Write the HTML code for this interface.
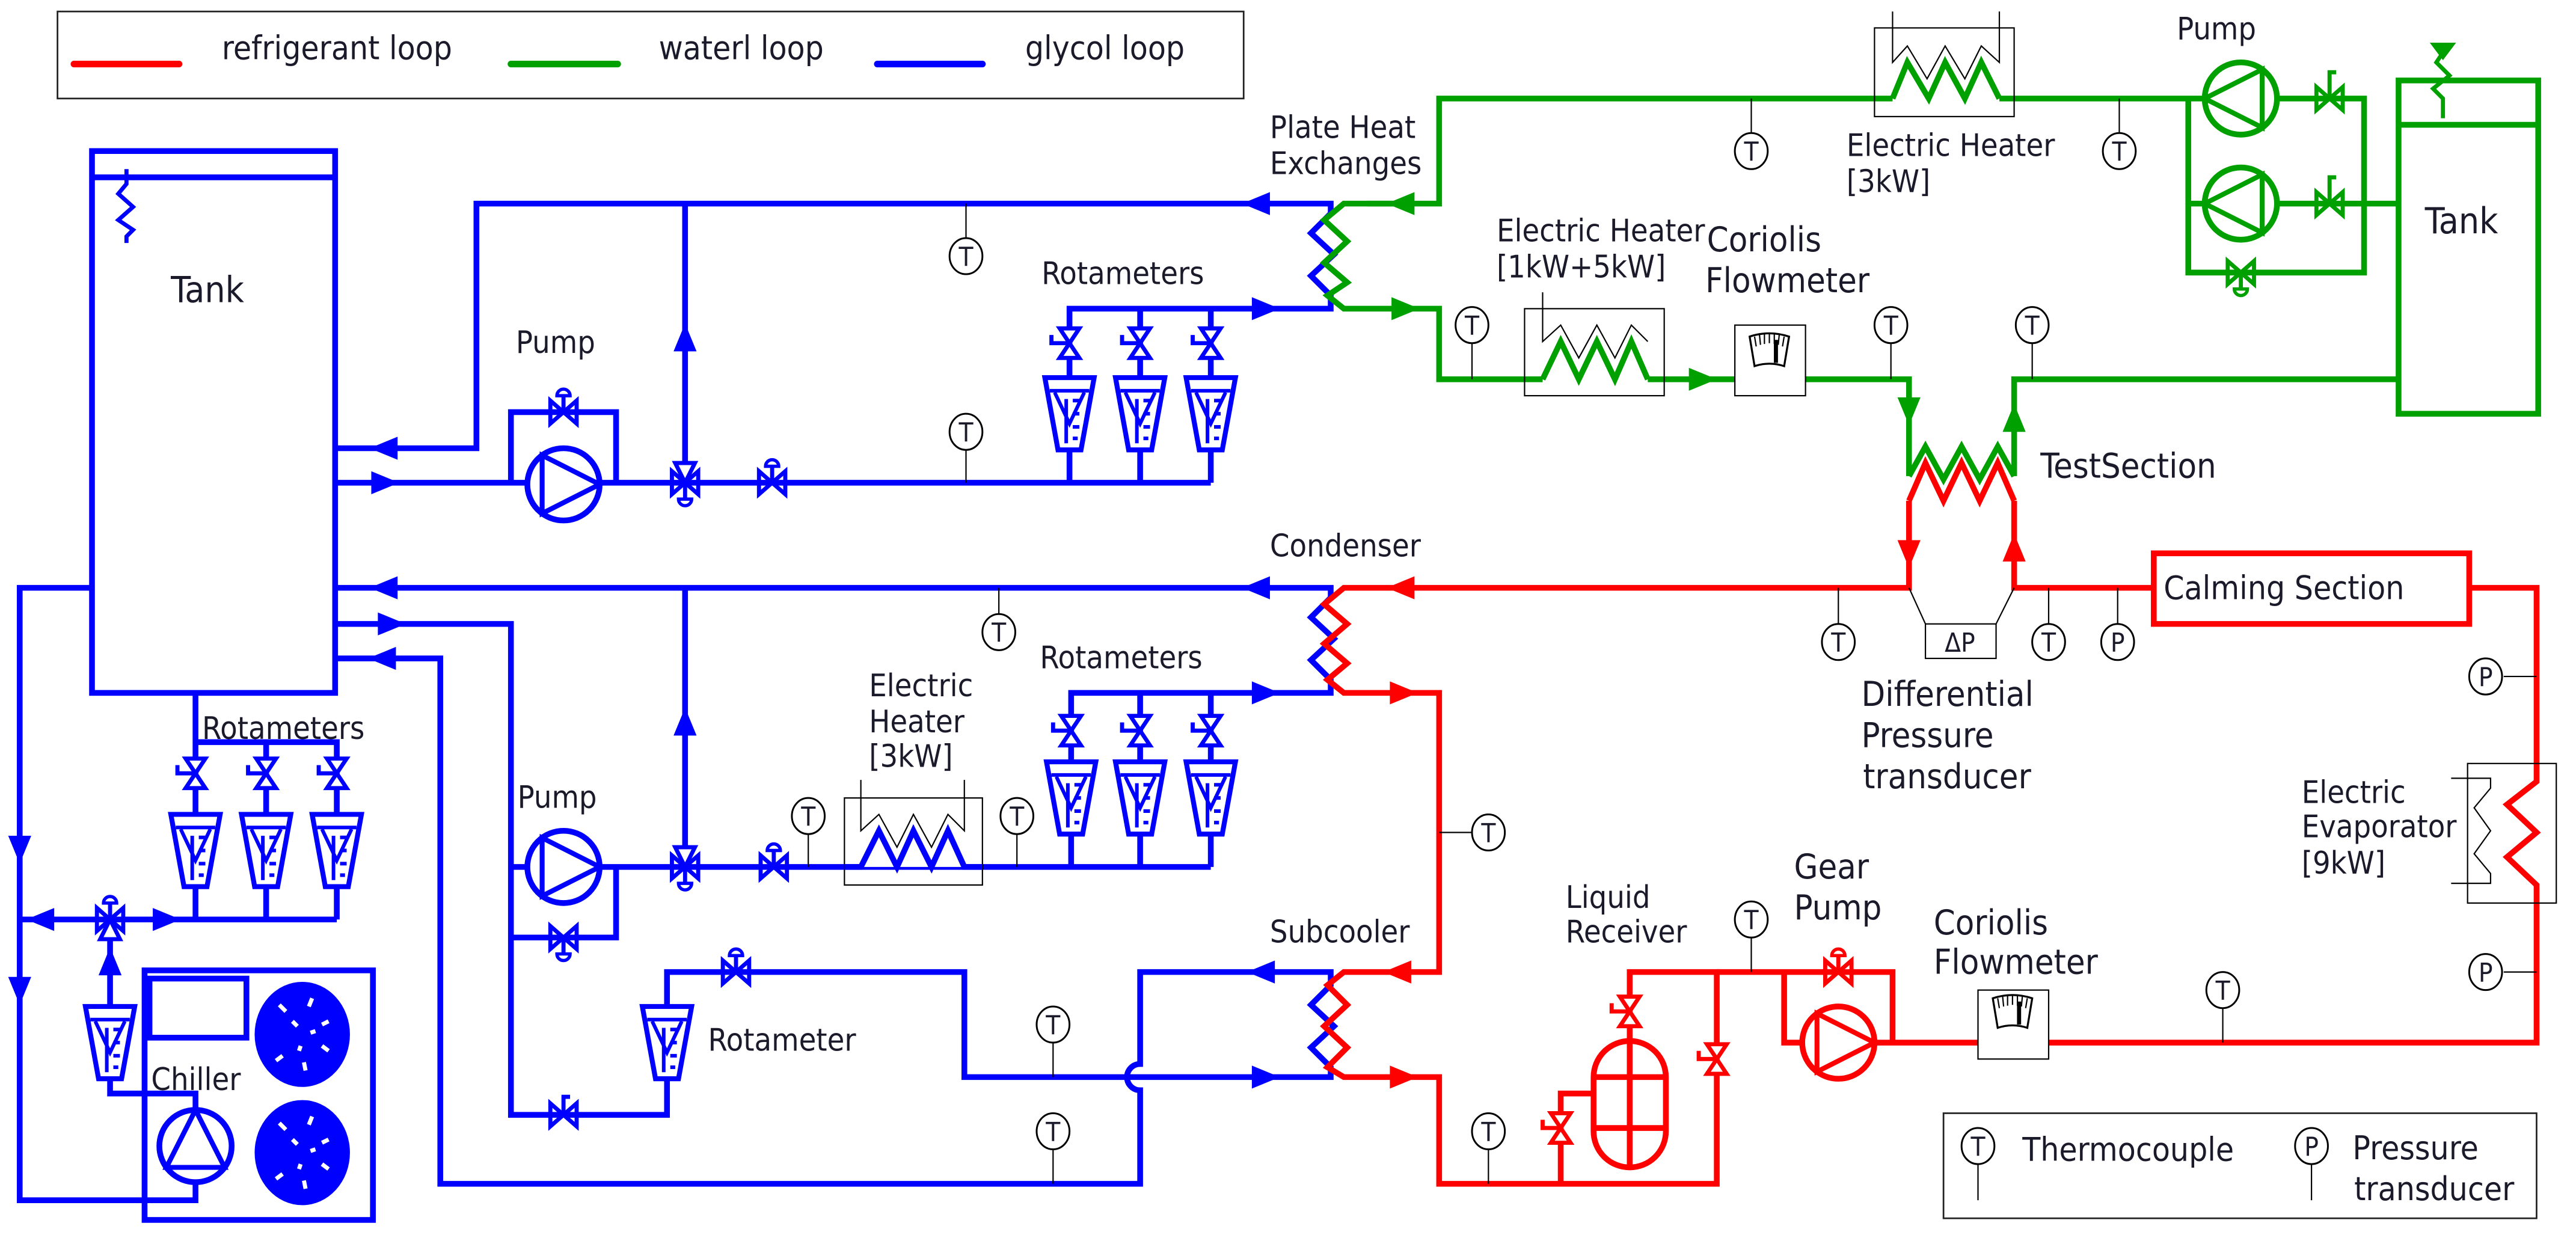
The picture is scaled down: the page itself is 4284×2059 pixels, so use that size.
<!DOCTYPE html>
<html><head><meta charset="utf-8"><style>
html,body{margin:0;padding:0;background:#fff}
svg{display:block}
text{font-family:"DejaVu Sans Condensed","DejaVu Sans","Liberation Sans",sans-serif;font-stretch:condensed;fill:#1a1a2a}
</style></head><body>
<svg width="4284" height="2059" viewBox="0 0 1568 754" preserveAspectRatio="none" xmlns="http://www.w3.org/2000/svg">
<defs>
<polygon id="ar" points="-8,-7 9,0 -8,7"/>
<g id="vb"><path d="M-8,-7 L8,7 L8,-7 L-8,7 Z" stroke-width="2.5" fill="none" stroke-linejoin="miter"/></g>
<g id="hu"><path d="M0,0 V-10" stroke-width="2.5"/><path d="M-4,-10 A4,4 0 0 1 4,-10 Z" stroke-width="2"/></g>
<g id="rv"><path d="M-6,-9 L6,9 L-6,9 L6,-9 Z" stroke-width="2.5"/><path d="M0,0 H-11 V-5" fill="none" stroke-width="2.5"/></g>
<g id="rot"><polygon points="-15,0 15,0 7,44 -7,44" fill="#fff" stroke-width="3"/><path d="M-12,8 H12 M-9,9 L0,28 L9,9 M-2,13 V40 M2,14 h5 M2,22 h4 M2,30 h4 M2,37 h3" fill="none" stroke-width="2.2"/></g>
<g id="pump"><circle r="22" fill="#fff" stroke-width="3.5"/><path d="M-13,-17.7 V17.7 L22,0 Z" fill="none" stroke-width="3"/></g>
<g id="ts"><ellipse rx="10" ry="11" fill="#fff" stroke="#000" stroke-width="1.1"/><text x="0" y="6" font-size="16" text-anchor="middle">T</text></g>
<g id="ps"><ellipse rx="10" ry="11" fill="#fff" stroke="#000" stroke-width="1.1"/><text x="0" y="6" font-size="16" text-anchor="middle">P</text></g>
<g id="dial"><path d="M-12,-10 Q0,-14 12,-10 L9,8 Q0,5 -9,8 Z" fill="none" stroke="#000" stroke-width="1.2"/><path d="M-9,-10 l1,6 M-6,-11 l0.6,6 M-3,-11.5 v6 M0,-12 v6 M3,-11.5 v6 M6,-11 l-0.6,6 M9,-10 l-1,6" stroke="#000" stroke-width="0.8"/><path d="M4,-8 V6" stroke="#000" stroke-width="2.5"/></g>
</defs>

<!-- Legend -->
<rect x="35" y="7" width="722" height="53" fill="none" stroke="#222" stroke-width="1"/>
<line x1="45" y1="39" x2="109" y2="39" stroke="#f00" stroke-width="4" stroke-linecap="round"/>
<line x1="311" y1="39" x2="376" y2="39" stroke="#00a000" stroke-width="4" stroke-linecap="round"/>
<line x1="534" y1="39" x2="598" y2="39" stroke="#00f" stroke-width="4" stroke-linecap="round"/>
<text x="135" y="36" font-size="20">refrigerant loop</text>
<text x="401" y="36" font-size="20">waterl loop</text>
<text x="624" y="36" font-size="20">glycol loop</text>

<!-- ===== BLUE ===== -->
<g stroke="#00f" fill="none" stroke-width="3.5">
<rect x="56" y="92" width="148" height="330"/>
<line x1="56" y1="108" x2="204" y2="108"/>
<path d="M77,103 V112 L72,118 L81,126 L72,134 L81,140 L77,144 V148" stroke-width="2.5"/>
<path d="M204,273 H290 V124 H810 V130 L798,142 L812,155 L798,168 L810,180 V188 H651 V294"/>
<path d="M694,188 V294 M737,188 V294"/>
<path d="M204,294 H737"/>
<path d="M417,124 V294"/>
<path d="M311,294 V251 H375 V294"/>
<path d="M204,358 H810 V364 L798,376 L812,389 L798,402 L810,414 V422 H652 V528"/>
<path d="M694,422 V528 M737,422 V528"/>
<path d="M204,380 H311 V679 H406 V592 H587 V656 H810 V650 L798,638 L812,625 L798,612 L810,600 V592 H694 V648 A8,8 0 0 0 694,664 V721 H268 V401 H204"/>
<path d="M311,528 H737"/>
<path d="M311,571 H375 V528"/>
<path d="M417,528 V358"/>
<path d="M119,422 V560 M119,452 H205 V560 M162,452 V560"/>
<path d="M12,560 H205"/>
<path d="M56,358 H12 V731 H119 V720"/>
<path d="M119,676 V666 H67 V560"/>
<rect x="88" y="591" width="139" height="152"/>
<rect x="91" y="596" width="59" height="36"/>
</g>
<g fill="#00f">
<ellipse cx="184" cy="630" rx="29" ry="32"/><ellipse cx="184" cy="702" rx="29" ry="32"/>
</g>
<g stroke="#fff" stroke-width="2.5" fill="none">
<path d="M170,612 l4,4 M190,608 l-2,5 M200,622 l-4,2 M200,640 l-4,-3 M186,652 l-1,-5 M168,646 l4,-3 M178,622 l3,3 M192,628 l-3,1 M182,640 l1,-3"/>
<path d="M170,684 l4,4 M190,680 l-2,5 M200,694 l-4,2 M200,712 l-4,-3 M186,724 l-1,-5 M168,718 l4,-3 M178,694 l3,3 M192,700 l-3,1 M182,712 l1,-3"/>
</g>
<g fill="#00f">
<use href="#ar" transform="translate(765,124) rotate(180)"/>
<use href="#ar" transform="translate(234,273) rotate(180)"/>
<use href="#ar" transform="translate(234,294)"/>
<use href="#ar" transform="translate(417,206) rotate(-90)"/>
<use href="#ar" transform="translate(770,188)"/>
<use href="#ar" transform="translate(234,358) rotate(180)"/>
<use href="#ar" transform="translate(765,358) rotate(180)"/>
<use href="#ar" transform="translate(770,422)"/>
<use href="#ar" transform="translate(238,380)"/>
<use href="#ar" transform="translate(233,401) rotate(180)"/>
<use href="#ar" transform="translate(417,440) rotate(-90)"/>
<use href="#ar" transform="translate(768,592) rotate(180)"/>
<use href="#ar" transform="translate(770,656)"/>
<use href="#ar" transform="translate(12,517) rotate(90)"/>
<use href="#ar" transform="translate(12,603) rotate(90)"/>
<use href="#ar" transform="translate(67,586) rotate(-90)"/>
<use href="#ar" transform="translate(25,560) rotate(180)"/>
<use href="#ar" transform="translate(101,560)"/>
</g>
<g stroke="#00f" fill="#fff">
<use href="#vb" x="343" y="251"/><use href="#hu" x="343" y="251"/>
<use href="#vb" x="417" y="294"/><use href="#hu" transform="translate(417,294) rotate(180)"/>
<path d="M411,282 L417,294 L423,282 Z" stroke-width="2.5"/>
<use href="#vb" x="470" y="294"/><use href="#hu" x="470" y="294"/>
<use href="#vb" x="417" y="528"/><use href="#hu" transform="translate(417,528) rotate(180)"/>
<path d="M411,516 L417,528 L423,516 Z" stroke-width="2.5"/>
<use href="#vb" x="471" y="528"/><use href="#hu" x="471" y="528"/>
<use href="#vb" x="343" y="571"/><use href="#hu" transform="translate(343,571) rotate(180)"/>
<use href="#vb" x="448" y="592"/><use href="#hu" x="448" y="592"/>
<use href="#vb" x="343" y="679"/><path d="M343,679 V668 H347" fill="none" stroke-width="2.5"/>
<use href="#vb" x="67" y="560"/><use href="#hu" x="67" y="560"/>
<path d="M61,572 L67,560 L73,572 Z" stroke-width="2.5"/>
<use href="#rv" x="651" y="209"/><use href="#rv" x="694" y="209"/><use href="#rv" x="737" y="209"/>
<use href="#rot" x="651" y="230"/><use href="#rot" x="694" y="230"/><use href="#rot" x="737" y="230"/>
<use href="#rv" x="652" y="445"/><use href="#rv" x="694" y="445"/><use href="#rv" x="737" y="445"/>
<use href="#rot" x="652" y="464"/><use href="#rot" x="694" y="464"/><use href="#rot" x="737" y="464"/>
<use href="#rv" x="119" y="471"/><use href="#rv" x="162" y="471"/><use href="#rv" x="205" y="471"/>
<use href="#rot" x="119" y="496"/><use href="#rot" x="162" y="496"/><use href="#rot" x="205" y="496"/>
<use href="#rot" x="67" y="613"/><use href="#rot" x="406" y="613"/>
<use href="#pump" x="343" y="295"/>
<use href="#pump" x="343" y="528"/>
<use href="#pump" transform="translate(119,698) rotate(-90)"/>
</g>
<!-- blue heater -->
<rect x="514" y="486" width="84" height="53" fill="none" stroke="#000" stroke-width="0.8"/>
<path d="M524,475 V506 L535,496 L546,516 L556,496 L567,516 L577,496 L587,506 V475" fill="none" stroke="#000" stroke-width="0.8"/>
<path d="M514,528 H524 L535,506 L546,528 L556,506 L567,528 L577,506 L587,528 H598" fill="#fff" stroke="#00f" stroke-width="3.5"/>

<!-- ===== GREEN ===== -->
<g stroke="#00a000" fill="none" stroke-width="3.5">
<path d="M853,124 H818 L806,134 L820,147 L806,160 L820,172 L808,180 L818,188 H876 V231 H939"/>
<path d="M832,124 H876 V60 H1152"/>
<path d="M1217,60 H1332 V166 H1439 V60 H1332"/>
<path d="M1332,124 H1460"/>
<rect x="1460" y="49" width="85" height="203"/>
<line x1="1460" y1="76" x2="1545" y2="76"/>
<path d="M1487,72 V60 L1481,54 L1491,46 L1483,38 L1487,32 V28" stroke-width="2.5"/>
<path d="M1481,27 L1493,27 L1487,35 Z" fill="#00a000" stroke-width="2"/>
<path d="M1003,231 H1162 V290 M1226,290 V231 H1460"/>
</g>
<rect x="1141" y="17" width="85" height="54" fill="none" stroke="#000" stroke-width="0.8"/>
<path d="M1152,7 V38 L1161,28 L1173,48 L1184,28 L1196,48 L1206,28 L1217,38 V7" fill="none" stroke="#000" stroke-width="0.8"/>
<path d="M1152,60 L1161,38 L1174,60 L1184,38 L1196,60 L1206,38 L1217,60" fill="none" stroke="#00a000" stroke-width="3.5"/>
<rect x="928" y="188" width="85" height="53" fill="none" stroke="#000" stroke-width="0.8"/>
<path d="M939,178 V208 L950,198 L961,218 L972,198 L983,218 L993,198 L1003,208" fill="none" stroke="#000" stroke-width="0.8"/>
<path d="M939,231 L950,208 L961,231 L972,208 L983,231 L993,208 L1003,231" fill="none" stroke="#00a000" stroke-width="3.5"/>
<rect x="1056" y="198" width="43" height="43" fill="#fff" stroke="#000" stroke-width="0.8"/>
<use href="#dial" x="1077" y="215"/>
<g fill="#00a000">
<use href="#ar" transform="translate(853,124) rotate(180)"/>
<use href="#ar" transform="translate(855,188)"/>
<use href="#ar" transform="translate(1036,231)"/>
<use href="#ar" transform="translate(1162,250) rotate(90)"/>
<use href="#ar" transform="translate(1226,255) rotate(-90)"/>
</g>
<g stroke="#00a000" fill="#fff">
<use href="#pump" transform="translate(1364,60) rotate(180)"/>
<use href="#pump" transform="translate(1364,124) rotate(180)"/>
<use href="#vb" x="1418" y="60"/><path d="M1418,60 V44 H1422" fill="none" stroke-width="2.5"/>
<use href="#vb" x="1418" y="124"/><path d="M1418,124 V108 H1422" fill="none" stroke-width="2.5"/>
<use href="#vb" x="1364" y="166"/><use href="#hu" transform="translate(1364,166) rotate(180)"/>
</g>

<!-- ===== RED ===== -->
<g stroke="#f00" fill="none" stroke-width="3.5">
<path d="M1162,305 V358 H818 L806,368 L820,380 L806,392 L820,404 L808,414 L818,422 H876 V592 H818 L808,600 L820,612 L806,625 L820,638 L808,650 L818,656 H876 V721 H1045 V592 H992 V634"/>
<path d="M970,666 H950 V721"/>
<rect x="970" y="634" width="44" height="77" rx="22" ry="22"/>
<path d="M970,656 H1014 M970,687 H1014 M992,634 V711"/>
<path d="M1045,592 H1152 V635 M1086,592 V635 H1100"/>
<path d="M1141,635 H1544 V539 L1526,522 L1544,507 L1526,490 L1544,476 V358 H1503"/>
<path d="M1226,305 V358 H1311"/>
<rect x="1311" y="337" width="192" height="43"/>
</g>
<path d="M1162,290 L1172,272 L1183,292 L1194,272 L1205,292 L1216,272 L1226,290" fill="none" stroke="#00a000" stroke-width="3.5"/>
<path d="M1162,305 L1172,282 L1183,305 L1194,282 L1205,305 L1216,282 L1226,305" fill="none" stroke="#f00" stroke-width="3.5"/>
<g fill="#f00">
<use href="#ar" transform="translate(853,358) rotate(180)"/>
<use href="#ar" transform="translate(1162,337) rotate(90)"/>
<use href="#ar" transform="translate(1226,334) rotate(-90)"/>
<use href="#ar" transform="translate(854,422)"/>
<use href="#ar" transform="translate(851,592) rotate(180)"/>
<use href="#ar" transform="translate(854,656)"/>
</g>
<g stroke="#f00" fill="#fff">
<use href="#rv" x="992" y="616"/><use href="#rv" x="950" y="687"/><use href="#rv" x="1045" y="645"/>
<use href="#vb" x="1119" y="592"/><use href="#hu" x="1119" y="592"/>
<use href="#pump" x="1119" y="635"/>
</g>
<rect x="1502" y="465" width="54" height="85" fill="none" stroke="#000" stroke-width="0.8"/>
<path d="M1492,474 H1516 V480 L1506,492 L1516,506 L1506,520 L1516,532 V538 H1492" fill="none" stroke="#000" stroke-width="0.8"/>
<rect x="1204" y="603" width="43" height="42" fill="#fff" stroke="#000" stroke-width="0.8"/>
<use href="#dial" x="1225" y="618"/>
<path d="M1162,358 L1172,380 M1226,358 L1215,380" stroke="#000" stroke-width="0.8"/>
<rect x="1172" y="380" width="43" height="21" fill="#fff" stroke="#000" stroke-width="0.8"/>
<text x="1193" y="397" font-size="16" text-anchor="middle">ΔP</text>

<!-- sensors -->
<g stroke="#000" stroke-width="0.8">
<path d="M588,124 V146 M588,273 V294 M608,358 V375 M492,507 V528 M619,507 V528 M641,634 V656 M641,699 V721"/>
<path d="M1066,60 V82 M1290,60 V82 M896,208 V231 M1151,208 V231 M1237,208 V231"/>
<path d="M1119,358 V381 M1247,358 V381 M1289,358 V381 M876,507 H896 M906,699 V721 M1066,570 V592 M1353,613 V635 M1524,412 H1544 M1524,592 H1544"/>
</g>
<use href="#ts" x="588" y="156"/><use href="#ts" x="588" y="263"/><use href="#ts" x="608" y="385"/>
<use href="#ts" x="492" y="497"/><use href="#ts" x="619" y="497"/><use href="#ts" x="641" y="624"/><use href="#ts" x="641" y="689"/>
<use href="#ts" x="1066" y="92"/><use href="#ts" x="1290" y="92"/><use href="#ts" x="896" y="198"/><use href="#ts" x="1151" y="198"/><use href="#ts" x="1237" y="198"/>
<use href="#ts" x="1119" y="391"/><use href="#ts" x="1247" y="391"/><use href="#ps" x="1289" y="391"/>
<use href="#ts" x="906" y="507"/><use href="#ts" x="906" y="689"/><use href="#ts" x="1066" y="560"/><use href="#ts" x="1353" y="603"/>
<use href="#ps" x="1513" y="412"/><use href="#ps" x="1513" y="592"/>

<!-- legend 2 -->
<rect x="1183" y="678" width="361" height="64" fill="none" stroke="#222" stroke-width="1"/>
<use href="#ts" x="1204" y="698"/><line x1="1204" y1="709" x2="1204" y2="731" stroke="#000" stroke-width="0.8"/>
<use href="#ps" x="1407" y="698"/><line x1="1407" y1="709" x2="1407" y2="731" stroke="#000" stroke-width="0.8"/>
<text x="1231" y="707" font-size="20">Thermocouple</text>
<text x="1432" y="706" font-size="20">Pressure</text>
<text x="1433" y="731" font-size="20">transducer</text>

<!-- labels -->
<g font-size="19">
<text x="104" y="184" font-size="22">Tank</text>
<text x="314" y="215">Pump</text>
<text x="634" y="173">Rotameters</text>
<text x="773" y="84">Plate Heat</text>
<text x="773" y="106">Exchanges</text>
<text x="773" y="339">Condenser</text>
<text x="633" y="407">Rotameters</text>
<text x="529" y="424">Electric</text>
<text x="529" y="446">Heater</text>
<text x="529" y="467">[3kW]</text>
<text x="315" y="492">Pump</text>
<text x="123" y="450">Rotameters</text>
<text x="431" y="640">Rotameter</text>
<text x="92" y="664">Chiller</text>
<text x="773" y="574">Subcooler</text>
<text x="1124" y="95">Electric Heater</text>
<text x="1124" y="117">[3kW]</text>
<text x="1325" y="24">Pump</text>
<text x="1476" y="142" font-size="22">Tank</text>
<text x="911" y="147">Electric Heater</text>
<text x="911" y="169">[1kW+5kW]</text>
<text x="1039" y="153" font-size="21">Coriolis</text>
<text x="1038" y="178" font-size="21">Flowmeter</text>
<text x="1242" y="291" font-size="21">TestSection</text>
<text x="1317" y="365" font-size="20">Calming  Section</text>
<text x="1133" y="430" font-size="21">Differential</text>
<text x="1133" y="455" font-size="21">Pressure</text>
<text x="1134" y="480" font-size="21">transducer</text>
<text x="1401" y="489">Electric</text>
<text x="1401" y="510">Evaporator</text>
<text x="1401" y="532">[9kW]</text>
<text x="1092" y="535" font-size="21">Gear</text>
<text x="1092" y="560" font-size="21">Pump</text>
<text x="953" y="553">Liquid</text>
<text x="953" y="574">Receiver</text>
<text x="1177" y="569" font-size="21">Coriolis</text>
<text x="1177" y="593" font-size="21">Flowmeter</text>
</g>
</svg>
</body></html>
